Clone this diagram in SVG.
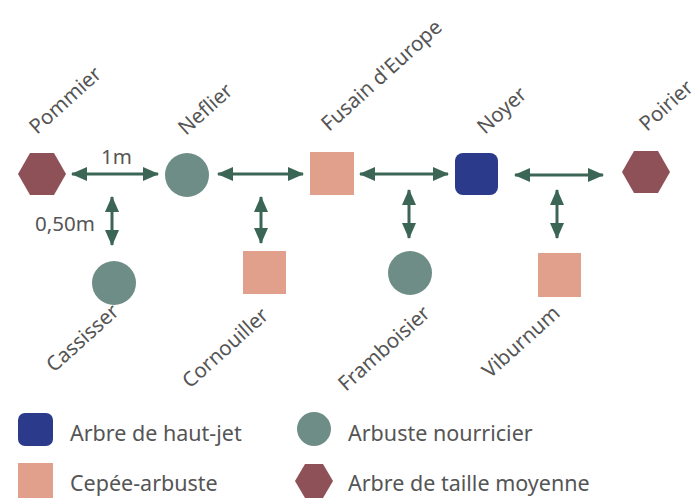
<svg xmlns="http://www.w3.org/2000/svg" width="696" height="498" viewBox="0 0 696 498">
<defs>
<style>
.lbl{font-family:"Noto Sans","DejaVu Sans",sans-serif;font-size:20.5px;fill:#555}
.leg{font-family:"Noto Sans","DejaVu Sans",sans-serif;font-size:21.5px;fill:#555}
.hex{fill:#8e5157}
.circ{fill:#6e8d87}
.sq{fill:#e0a08b}
.blue{fill:#2b3a8a}
.arr{stroke:#3b6656;stroke-width:3;fill:none;marker-start:url(#ah);marker-end:url(#ah)}
</style>
<marker id="ah" markerUnits="userSpaceOnUse" markerWidth="16" markerHeight="14" refX="15" refY="7" orient="auto-start-reverse">
<path d="M0,0 L16,7 L0,14 Z" fill="#3b6656"/>
</marker>
</defs>
<rect width="696" height="498" fill="#fff"/>
<g id="connectors">
<line class="arr" x1="72" y1="174" x2="158" y2="174"/>
<line class="arr" x1="218" y1="174" x2="303" y2="174"/>
<line class="arr" x1="360" y1="174" x2="448" y2="174"/>
<line class="arr" x1="515" y1="175" x2="603" y2="175"/>
<line class="arr" x1="112" y1="197" x2="112" y2="245"/>
<line class="arr" x1="261" y1="197" x2="261" y2="243"/>
<line class="arr" x1="409" y1="190" x2="409" y2="238"/>
<line class="arr" x1="557" y1="190" x2="557" y2="238"/>
<text class="lbl" x="101" y="164">1m</text>
<text class="lbl" x="35" y="231">0,50m</text>
</g>
<g id="pommier">
<polygon class="hex" points="18,174 30,153 54,153 66,174 54,195 30,195"/>
<text class="lbl" transform="translate(37,135) rotate(-42)">Pommier</text>
</g>
<g id="neflier">
<circle class="circ" cx="187" cy="175" r="22"/>
<text class="lbl" transform="translate(186,136) rotate(-42)">Neflier</text>
</g>
<g id="fusain">
<rect class="sq" x="310" y="152" width="44" height="43"/>
<text class="lbl" transform="translate(329,132) rotate(-42)">Fusain d'Europe</text>
</g>
<g id="noyer">
<rect class="blue" x="455" y="153" width="43" height="42" rx="8"/>
<text class="lbl" transform="translate(485,135) rotate(-42)">Noyer</text>
</g>
<g id="poirier">
<polygon class="hex" points="622,172 634,151 658,151 670,172 658,193 634,193"/>
<text class="lbl" transform="translate(647,132) rotate(-42)">Poirier</text>
</g>
<g id="cassisser">
<circle class="circ" cx="114" cy="283" r="22"/>
<text class="lbl" transform="translate(54,373) rotate(-42)">Cassisser</text>
</g>
<g id="cornouiller">
<rect class="sq" x="243" y="251" width="43" height="43"/>
<text class="lbl" transform="translate(190,389) rotate(-42)">Cornouiller</text>
</g>
<g id="framboisier">
<circle class="circ" cx="410" cy="273" r="22"/>
<text class="lbl" transform="translate(346,392) rotate(-42)">Framboisier</text>
</g>
<g id="viburnum">
<rect class="sq" x="538" y="253" width="43" height="44"/>
<text class="lbl" transform="translate(490,379) rotate(-42)">Viburnum</text>
</g>
<g id="legend">
<rect class="blue" x="18" y="413" width="35" height="33" rx="7"/>
<text class="leg" x="70" y="441">Arbre de haut-jet</text>
<circle class="circ" cx="314" cy="429" r="17"/>
<text class="leg" x="348" y="441">Arbuste nourricier</text>
<rect class="sq" x="18" y="463" width="35" height="35"/>
<text class="leg" x="70" y="491">Cepée-arbuste</text>
<polygon class="hex" points="295,481 305,464 323,464 333,481 323,498 305,498"/>
<text class="leg" x="348" y="491">Arbre de taille moyenne</text>
</g>
</svg>
